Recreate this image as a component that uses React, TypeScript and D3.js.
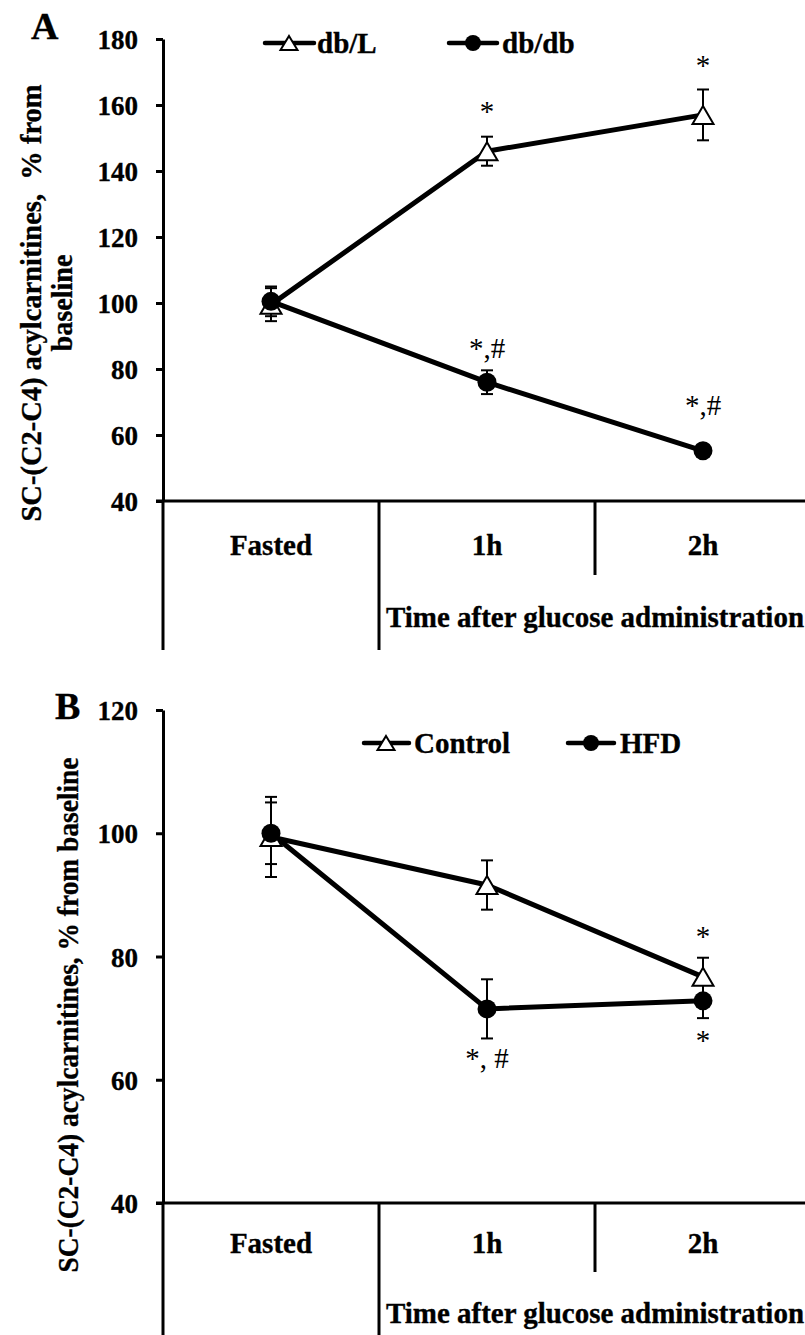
import React, { useEffect, useRef } from 'react';
import * as d3 from 'd3';

// categories on the x axis (shared by both panels)
const categories = ['Fasted', '1h', '2h'];

// panel A: db/L vs db/db
const ticksA = [40, 60, 80, 100, 120, 140, 160, 180];
const dbLMean = [99.5, 146, 157];
const dbLErr = [5, 4.4, 7.7];
const dbdbMean = [100.5, 76, 55.2];
const dbdbErr = [4.5, 3.6, 1.5];

// panel B: Control vs HFD
const ticksB = [40, 60, 80, 100, 120];
const controlMean = [99.4, 91.6, 76.7];
const controlErr = [6.5, 4, 3.1];
const hfdMean = [100, 71.5, 72.8];
const hfdErr = [5, 4.8, 2.8];

// significance marks: value (in y units) where the text baseline sits
const notesA = [
  { category: '1h', text: '*', at: 155.2 },
  { category: '2h', text: '*', at: 169.1 },
  { category: '1h', text: '*,#', at: 83.3 },
  { category: '2h', text: '*,#', at: 66.1 },
];
const notesB = [
  { category: '2h', text: '*', at: 81.7 },
  { category: '2h', text: '*', at: 64.9 },
  { category: '1h', text: '*, #', at: 61.9 },
];

const FONT = '"Liberation Serif", "Times New Roman", serif';

interface Series {
  name: string;
  marker: 'triangle' | 'circle';
  mean: number[];
  err: number[];
}

interface PanelConfig {
  letter: string;
  letterPos: [number, number];
  ticks: number[];
  yRange: [number, number];
  series: Series[];
  notes: { category: string; text: string; at: number }[];
  yLabel: { lines: string[]; xs: number[]; y: number; lengths: number[] };
  legend: { line: [number, number]; y: number; marker: number; textX: number }[];
  catLabelDy: number;
  timeLabelDy: number;
  row1: number;
  row2: number;
}

type G = d3.Selection<SVGGElement, unknown, null, undefined>;

// bold text helper, slightly stroked so it reads as heavy as the original
const boldText = (g: G, size: number) =>
  g.append('text')
    .attr('font-family', FONT)
    .attr('font-size', size)
    .attr('font-weight', 'bold')
    .attr('fill', '#000')
    .attr('stroke', '#000')
    .attr('stroke-width', 0.35);

const drawMarker = (g: G, kind: 'triangle' | 'circle', cx: number, cy: number, big: boolean) => {
  if (kind === 'circle') {
    g.append('circle')
      .attr('cx', cx)
      .attr('cy', cy)
      .attr('r', big ? 9.5 : 8)
      .attr('fill', '#000');
  } else {
    const w = big ? 21 : 17;
    const h = big ? 18 : 14;
    g.append('path')
      .attr('d', `M${cx},${cy - h / 2}L${cx + w / 2},${cy + h / 2}L${cx - w / 2},${cy + h / 2}Z`)
      .attr('fill', '#fff')
      .attr('stroke', '#000')
      .attr('stroke-width', 2)
      .attr('stroke-linejoin', 'miter');
  }
};

const drawPanel = (root: G, p: PanelConfig) => {
  const x = d3.scaleBand<string>().domain(categories).range([163, 811]);
  const cx = (c: string) => (x(c) as number) + x.bandwidth() / 2;
  const y = d3.scaleLinear().domain([40, p.ticks[p.ticks.length - 1]]).range(p.yRange);
  const y0 = y(40);

  const g = root.append('g');

  // y axis
  const axis = g.append('g')
    .attr('transform', 'translate(163,0)')
    .call(d3.axisLeft(y).tickValues(p.ticks).tickSize(7).tickSizeOuter(0).tickPadding(18));
  axis.attr('font-family', FONT).attr('font-size', 27).attr('font-weight', 'bold');
  axis.select('.domain').attr('stroke', '#000').attr('stroke-width', 3);
  axis.selectAll('.tick line').attr('stroke', '#000').attr('stroke-width', 3);
  axis.selectAll('.tick text')
    .attr('fill', '#000')
    .attr('stroke', '#000')
    .attr('stroke-width', 0.35)
    .attr('dy', '0.36em');

  // axis line continues down through the category rows
  g.append('line')
    .attr('x1', 163).attr('x2', 163)
    .attr('y1', y0).attr('y2', y0 + p.row2)
    .attr('stroke', '#000').attr('stroke-width', 3);

  // x axis
  g.append('line')
    .attr('x1', 156).attr('x2', 805)
    .attr('y1', y0).attr('y2', y0)
    .attr('stroke', '#000').attr('stroke-width', 3);

  // category dividers
  g.append('line')
    .attr('x1', x('1h') as number).attr('x2', x('1h') as number)
    .attr('y1', y0).attr('y2', y0 + p.row2)
    .attr('stroke', '#000').attr('stroke-width', 3);
  g.append('line')
    .attr('x1', x('2h') as number).attr('x2', x('2h') as number)
    .attr('y1', y0).attr('y2', y0 + p.row1)
    .attr('stroke', '#000').attr('stroke-width', 3);

  categories.forEach(c => {
    boldText(g, 29)
      .attr('x', cx(c))
      .attr('y', y0 + p.catLabelDy)
      .attr('text-anchor', 'middle')
      .text(c);
  });

  boldText(g, 29)
    .attr('x', x('2h') as number)
    .attr('y', y0 + p.timeLabelDy)
    .attr('text-anchor', 'middle')
    .attr('textLength', 418)
    .attr('lengthAdjust', 'spacingAndGlyphs')
    .text('Time after glucose administration');

  // y label
  p.yLabel.lines.forEach((line, i) => {
    boldText(g, 29)
      .attr('transform', `translate(${p.yLabel.xs[i]},${p.yLabel.y}) rotate(-90)`)
      .attr('text-anchor', 'middle')
      .attr('textLength', p.yLabel.lengths[i])
      .attr('lengthAdjust', 'spacingAndGlyphs')
      .style('white-space', 'pre')
      .text(line);
  });

  // panel letter
  boldText(g, 38)
    .attr('x', p.letterPos[0])
    .attr('y', p.letterPos[1])
    .text(p.letter);

  // lines
  const line = d3.line<number>()
    .x((_, i) => cx(categories[i]))
    .y(d => y(d));
  p.series.forEach(s => {
    g.append('path')
      .attr('d', line(s.mean) as string)
      .attr('fill', 'none')
      .attr('stroke', '#000')
      .attr('stroke-width', 5)
      .attr('stroke-linejoin', 'round');
  });

  // error bars
  p.series.forEach(s => {
    s.mean.forEach((m, i) => {
      const px = cx(categories[i]);
      const top = y(m + s.err[i]);
      const bot = y(m - s.err[i]);
      g.append('line').attr('x1', px).attr('x2', px).attr('y1', top).attr('y2', bot)
        .attr('stroke', '#000').attr('stroke-width', 2);
      [top, bot].forEach(v => {
        g.append('line').attr('x1', px - 6).attr('x2', px + 6).attr('y1', v).attr('y2', v)
          .attr('stroke', '#000').attr('stroke-width', 2);
      });
    });
  });

  // markers
  p.series.forEach(s => {
    s.mean.forEach((m, i) => drawMarker(g, s.marker, cx(categories[i]), y(m), true));
  });

  // significance notes
  p.notes.forEach(n => {
    g.append('text')
      .attr('x', cx(n.category))
      .attr('y', y(n.at))
      .attr('text-anchor', 'middle')
      .attr('font-family', FONT)
      .attr('font-size', 29)
      .style('white-space', 'pre')
      .text(n.text);
  });

  // legend
  p.series.forEach((s, i) => {
    const l = p.legend[i];
    g.append('line')
      .attr('x1', l.line[0]).attr('x2', l.line[1])
      .attr('y1', l.y).attr('y2', l.y)
      .attr('stroke', '#000').attr('stroke-width', 4.5)
      .attr('stroke-linecap', 'round');
    drawMarker(g, s.marker, l.marker, l.y, false);
    boldText(g, 29)
      .attr('x', l.textX)
      .attr('y', l.y + 10)
      .text(s.name);
  });
};

const App: React.FC = () => {
  const svgRef = useRef<SVGSVGElement>(null);

  useEffect(() => {
    if (!svgRef.current) return;
    d3.select(svgRef.current).selectAll('*').remove();
    const root = d3.select(svgRef.current).append('g') as G;

    drawPanel(root, {
      letter: 'A',
      letterPos: [31, 39],
      ticks: ticksA,
      yRange: [501, 39],
      series: [
        { name: 'db/L', marker: 'triangle', mean: dbLMean, err: dbLErr },
        { name: 'db/db', marker: 'circle', mean: dbdbMean, err: dbdbErr },
      ],
      notes: notesA,
      yLabel: {
        lines: ['SC-(C2-C4) acylcarnitines,  % from', 'baseline'],
        xs: [41, 72],
        y: 303,
        lengths: [437, 97],
      },
      legend: [
        { line: [265, 314], y: 43, marker: 289, textX: 317 },
        { line: [449, 497], y: 43, marker: 473, textX: 502 },
      ],
      catLabelDy: 54,
      timeLabelDy: 126,
      row1: 74,
      row2: 149,
    });

    drawPanel(root, {
      letter: 'B',
      letterPos: [55, 719],
      ticks: ticksB,
      yRange: [1203, 710],
      series: [
        { name: 'Control', marker: 'triangle', mean: controlMean, err: controlErr },
        { name: 'HFD', marker: 'circle', mean: hfdMean, err: hfdErr },
      ],
      notes: notesB,
      yLabel: {
        lines: ['SC-(C2-C4) acylcarnitines, % from baseline'],
        xs: [78],
        y: 1015,
        lengths: [515],
      },
      legend: [
        { line: [364, 409], y: 743, marker: 386, textX: 414 },
        { line: [568, 614], y: 743, marker: 591, textX: 620 },
      ],
      catLabelDy: 50,
      timeLabelDy: 120,
      row1: 69,
      row2: 140,
    });
  }, []);

  return (
    <svg
      ref={svgRef}
      width={805}
      height={1335}
      style={{ position: 'absolute', left: 0, top: 0, background: '#fff' }}
    />
  );
};

export default App;
